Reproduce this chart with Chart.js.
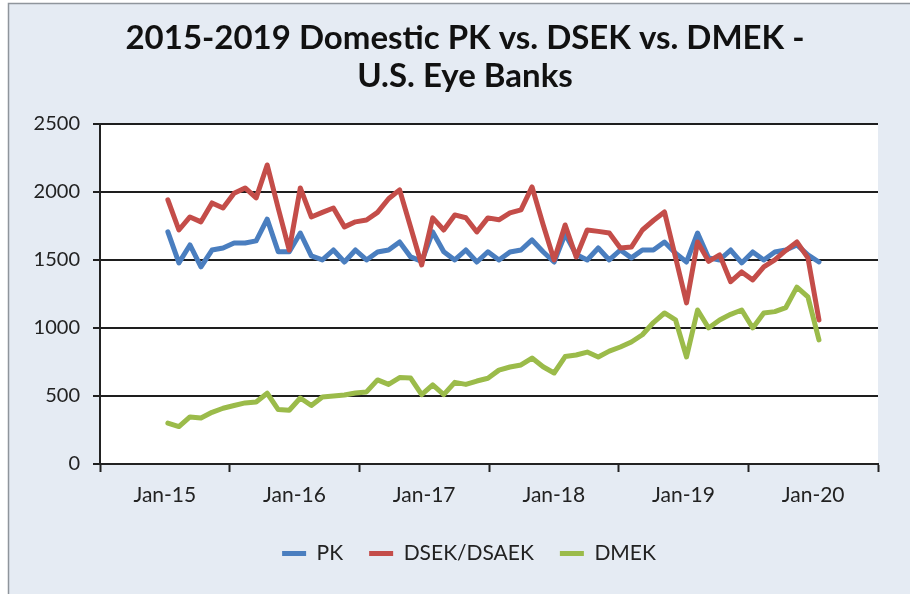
<!DOCTYPE html>
<html>
<head>
<meta charset="utf-8">
<script src="https://cdn.jsdelivr.net/npm/chart.js@4.4.1/dist/chart.umd.min.js"></script>
<style>
  html, body { margin: 0; padding: 0; background: #fff; }
  #wrap { width: 910px; height: 594px; }
</style>
</head>
<body>
<div id="wrap"><canvas id="eyeChart" width="910" height="594"></canvas></div>
<script>
// monthly surgery counts, Jan 2015 - Dec 2019
const monthNames = ["Jan","Feb","Mar","Apr","May","Jun","Jul","Aug","Sep","Oct","Nov","Dec"];
const years = [15, 16, 17, 18, 19];
const months = [];
years.forEach(y => monthNames.forEach(m => months.push(m + "-" + y)));

const yearLabels = ["Jan-15", "Jan-16", "Jan-17", "Jan-18", "Jan-19", "Jan-20"];

const pk = [
  1706, 1478, 1610, 1449, 1573, 1588, 1625, 1625, 1640, 1800,
  1560, 1560, 1698, 1530, 1500, 1573, 1485, 1573, 1500, 1559,
  1573, 1632, 1522, 1490, 1706, 1560, 1500, 1573, 1485, 1560,
  1500, 1559, 1573, 1647, 1560, 1485, 1690, 1540, 1500, 1588,
  1500, 1573, 1515, 1573, 1573, 1632, 1550, 1485, 1698, 1515,
  1500, 1573, 1478, 1559, 1500, 1559, 1573, 1610, 1537, 1485
];

const dsek = [
  1941, 1720, 1816, 1780, 1919, 1882, 1990, 2029, 1956, 2198,
  1880, 1573, 2029, 1816, 1850, 1882, 1743, 1780, 1794, 1850,
  1950, 2015, 1740, 1463, 1809, 1720, 1831, 1810, 1706, 1809,
  1795, 1846, 1868, 2037, 1760, 1500, 1757, 1522, 1720, 1710,
  1698, 1588, 1595, 1720, 1790, 1853, 1520, 1184, 1632, 1490,
  1537, 1340, 1412, 1353, 1449, 1500, 1570, 1632, 1515, 1059
];

const dmek = [
  301, 275, 346, 338, 380, 410, 430, 449, 456, 520,
  400, 395, 485, 430, 493, 500, 507, 522, 530, 618,
  585, 635, 632, 510, 581, 510, 600, 585, 610, 630,
  690, 713, 728, 779, 715, 669, 790, 801, 823, 787,
  830, 860, 897, 950, 1040, 1110, 1060, 787, 1132, 1000,
  1059, 1100, 1132, 1000, 1110, 1120, 1150, 1300, 1228, 912
];

// x axis runs in month units; six equal year bands, label centred in each band
const xMin = -6.15;
const xMax = 64.35;
const band = (xMax - xMin) / yearLabels.length;

const FONT = "Lato";

function toPoints(arr) {
  return arr.map((v, i) => ({ x: i, y: v, month: months[i] }));
}

// frame, panel background and white plot area
const backdrop = {
  id: "backdrop",
  afterLayout(chart) {
    // title and legend sit a little right of the canvas centre
    if (chart.titleBlock) chart.titleBlock.left = 52;
    if (chart.legend) chart.legend.left = 60;
  },
  beforeDraw(chart) {
    const { ctx, chartArea: a } = chart;
    ctx.save();
    ctx.fillStyle = "#ffffff";
    ctx.fillRect(0, 0, chart.width, chart.height);
    ctx.fillStyle = "#e5ebf3";
    ctx.fillRect(8, 3, chart.width - 8, chart.height - 3);
    ctx.strokeStyle = "#8f959c";
    ctx.lineWidth = 1.5;
    ctx.beginPath();
    ctx.moveTo(8.5, chart.height);
    ctx.lineTo(8.5, 3.5);
    ctx.lineTo(chart.width, 3.5);
    ctx.stroke();
    ctx.fillStyle = "#ffffff";
    ctx.fillRect(a.left, a.top, a.right - a.left, a.bottom - a.top);
    ctx.restore();
  }
};

const ctx = document.getElementById("eyeChart").getContext("2d");

new Chart(ctx, {
  type: "line",
  data: {
    datasets: [
      {
        label: "PK",
        data: toPoints(pk),
        borderColor: "#4a7ebf",
        backgroundColor: "#4a7ebf",
        borderWidth: 5,
        pointRadius: 0,
        order: 3
      },
      {
        label: "DSEK/DSAEK",
        data: toPoints(dsek),
        borderColor: "#c44d49",
        backgroundColor: "#c44d49",
        borderWidth: 5,
        pointRadius: 0,
        order: 2
      },
      {
        label: "DMEK",
        data: toPoints(dmek),
        borderColor: "#9bbb4a",
        backgroundColor: "#9bbb4a",
        borderWidth: 5,
        pointRadius: 0,
        order: 1
      }
    ]
  },
  options: {
    responsive: false,
    animation: false,
    events: [],
    layout: { padding: { left: 0, right: 32, top: 19, bottom: 20 } },
    elements: { line: { tension: 0, borderJoinStyle: "round", borderCapStyle: "round" } },
    plugins: {
      title: {
        display: true,
        text: ["2015-2019 Domestic PK vs. DSEK vs. DMEK -", "U.S. Eye Banks"],
        color: "#111",
        font: { family: FONT, size: 33, weight: "bold", lineHeight: 1.15 },
        padding: { top: 0, bottom: 29 }
      },
      legend: {
        position: "bottom",
        labels: {
          color: "#222",
          font: { family: FONT, size: 21 },
          boxWidth: 24,
          boxHeight: 5,
          padding: 26,
          generateLabels(chart) {
            const items = Chart.defaults.plugins.legend.labels.generateLabels(chart);
            items.sort((a, b) => a.datasetIndex - b.datasetIndex);
            items.forEach(it => { it.lineWidth = 0; it.strokeStyle = "transparent"; });
            return items;
          }
        }
      },
      tooltip: { enabled: false }
    },
    scales: {
      x: {
        type: "linear",
        min: xMin,
        max: xMax,
        afterBuildTicks(scale) {
          const t = [];
          for (let k = 0; k <= yearLabels.length * 2; k++) {
            t.push({ value: xMin + k * band / 2 });
          }
          scale.ticks = t;
        },
        afterFit(scale) { scale.height = 53; },
        grid: {
          drawOnChartArea: false,
          drawTicks: true,
          tickLength: 8,
          tickWidth: 2,
          tickColor: c => (c.index % 2 === 0 ? "#222" : "rgba(0,0,0,0)")
        },
        border: { display: true, color: "#222", width: 2 },
        ticks: {
          autoSkip: false,
          maxRotation: 0,
          padding: 11,
          color: "#222",
          font: { family: FONT, size: 21 },
          callback: (v, i) => (i % 2 === 1 ? yearLabels[(i - 1) / 2] : "")
        }
      },
      y: {
        min: 0,
        max: 2500,
        afterFit(scale) { scale.width = 100; },
        grid: {
          color: "#1e1e1e",
          lineWidth: 2,
          drawTicks: true,
          tickLength: 7
        },
        border: { display: true, color: "#222", width: 2 },
        ticks: {
          stepSize: 500,
          padding: 13,
          color: "#222",
          font: { family: FONT, size: 20 },
          callback: v => String(v)
        }
      }
    }
  },
  plugins: [backdrop]
});
</script>
</body>
</html>
